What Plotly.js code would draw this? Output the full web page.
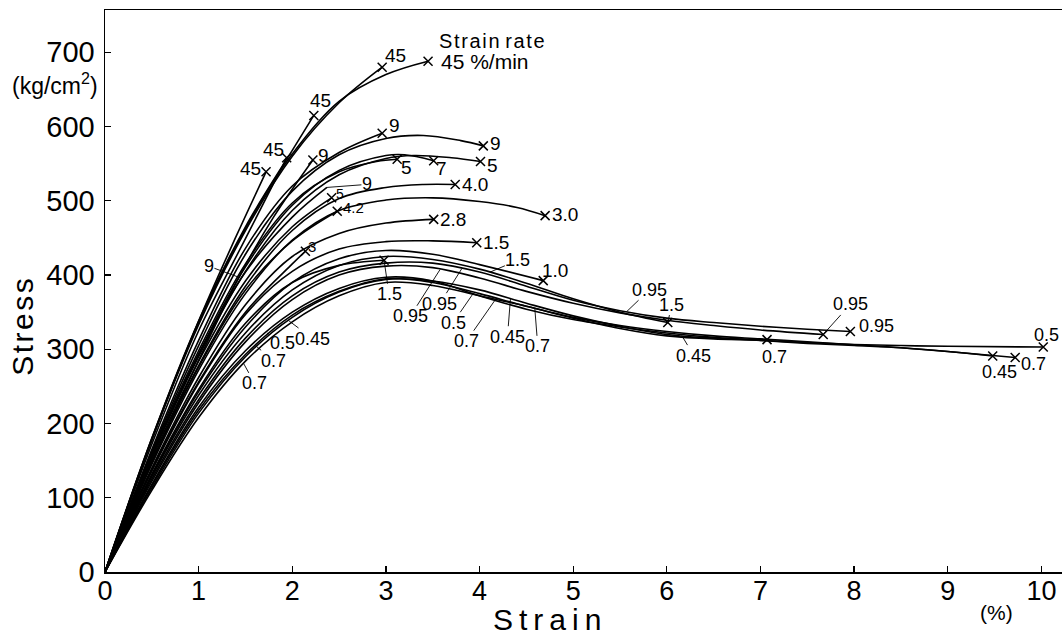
<!DOCTYPE html>
<html><head><meta charset="utf-8">
<script src="https://cdn.plot.ly/plotly-3.0.1.min.js"></script>
<style>body{margin:0;background:#fff}#chart{width:1062px;height:636px}</style>
</head><body><div id="chart"></div>
<script>
// ---- Data: strain (%) and stress (kg/cm2) ----
const U1_strain=[0,0.5,1,1.5,2,2.5,3,3.45];            const U1_stress=[0,180,336,463,563,634,670,688];
const U2_strain=[0,0.5,1,1.5,2,2.5,2.96];              const U2_stress=[0,178,333,460,560,632,680];
const U3_strain=[0,0.5,1,1.5,2,2.23];                  const U3_stress=[0,180,338,465,568,615];
const U4_strain=[0,0.5,1,1.5,1.94];                    const U4_stress=[0,172,325,449,558];
const U5_strain=[0,0.5,1,1.4,1.72];                    const U5_stress=[0,178,338,452,539];
const U6_strain=[0,0.5,1,1.43,1.8,2.22];               const U6_stress=[0,148,285,397,478,555];
const U7_strain=[0,0.5,1,1.5,2,2.5,2.96];              const U7_stress=[0,165,312,436,520,565,591];
const U8_strain=[0,0.5,1,1.5,2,2.5,3,3.4,3.8,4.04];    const U8_stress=[0,162,305,428,513,562,584,588,581,574];
const U9_strain=[0,0.5,1,1.5,2,2.5,2.9,3.12];          const U9_stress=[0,160,298,415,497,539,553,556];
const U10_strain=[0,0.5,1,1.5,2,2.5,3,3.2,3.51];       const U10_stress=[0,157,294,411,494,541,561,562,554];
const U11_strain=[0,0.5,1,1.5,2,2.5,3,3.3,3.7,4.01];   const U11_stress=[0,155,290,405,487,535,557,561,558,553];
const U18_strain=[0,0.5,1,1.5,2,2.37];                 const U18_stress=[0,156,293,404,478,518];
const U15_strain=[0,0.5,1,1.5,2,2.42];                 const U15_stress=[0,152,284,392,465,504];
const U16_strain=[0,0.5,1,1.5,2,2.48];                 const U16_stress=[0,148,276,380,446,486];
const U12_strain=[0,0.5,1,1.5,2,2.5,3,3.4,3.74];       const U12_stress=[0,148,278,385,460,503,518,522,522];
const U13_strain=[0,0.5,1,1.5,2,2.5,3,3.5,4,4.4,4.7];  const U13_stress=[0,145,272,375,447,487,501,504,499,491,480];
const U14_strain=[0,0.5,1,1.5,2,2.5,3,3.51];           const U14_stress=[0,140,262,360,425,456,470,475];
const U17_strain=[0,0.5,1,1.5,2,2.14];                 const U17_stress=[0,138,256,350,415,432];
const L10_strain=[0,0.5,1,1.5,2,2.5,3,3.5,3.97];       const L10_stress=[0,136,254,347,405,435,445,446,443.5];
const L9_strain=[0,0.5,1,1.5,2,2.5,2.98];              const L9_stress=[0,132,246,335,390,413,420];
const L8_strain=[0,0.5,1,1.5,2,2.5,3,3.5,4,4.68];      const L8_stress=[0,130,243,330,390,422,433,428,414,392.5];
const L7_strain=[0,0.5,1,1.5,2,2.5,3,3.5,4,4.5,5,5.5,6.01];
const L7_stress=[0,128,238,322,380,413,425,421,408,389,368,350,336];
const L4_strain=[0,0.5,1,1.5,2,2.5,3,3.5,4,4.5,5,5.5,6,6.5,7,7.5,7.96];
const L4_stress=[0,125,232,315,372,404,416,416,404,385,366,352,342,336,331,327,324];
const L5_strain=[0,0.5,1,1.5,2,2.5,3,3.5,4,4.5,5,5.5,6,6.5,7,7.67];
const L5_stress=[0,122,228,310,367,400,412,410,396,378,362,349,339,332,326,320];
const L1_strain=[0,0.5,1,1.5,2,2.5,3,3.5,4,4.5,5,5.5,6,6.5,7,7.5,8,8.5,9,10.02];
const L1_stress=[0,118,222,298,350,382,397,392,372,354,340,330,322,316,312,309,306.5,305,304,303];
const L2_strain=[0,0.5,1,1.5,2,2.5,3,3.5,4,4.5,5,5.5,6,6.5,7,7.5,8,8.5,9,9.72];
const L2_stress=[0,116,218,293,346,378,395,390,375,358,343,332,324,318,314,310,306,302,297,289];
const L3_strain=[0,0.5,1,1.5,2,2.5,3,3.5,4,4.5,5,5.5,6,6.5,7,7.5,8,8.5,9,9.48];
const L3_stress=[0,113,214,290,343,377,394,392,380,362,345,331,320,315,312,308,305,302,297,291];
const L6_strain=[0,0.5,1,1.5,2,2.5,3,3.5,4,4.5,5,5.5,6,6.5,7.07];
const L6_stress=[0,110,208,284,337,372,390,386,372,358,342,328,318,314,313];

// curve id -> [strain, stress, strain-rate label, has end cross]
const curves = {
  U1:[U1_strain,U1_stress,'45',true], U2:[U2_strain,U2_stress,'45',true], U3:[U3_strain,U3_stress,'45',true],
  U4:[U4_strain,U4_stress,'45',true], U5:[U5_strain,U5_stress,'45',true], U6:[U6_strain,U6_stress,'9',true],
  U7:[U7_strain,U7_stress,'9',true], U8:[U8_strain,U8_stress,'9',true], U9:[U9_strain,U9_stress,'5',true],
  U10:[U10_strain,U10_stress,'7',true], U11:[U11_strain,U11_stress,'5',true], U18:[U18_strain,U18_stress,'9',false],
  U15:[U15_strain,U15_stress,'5',true], U16:[U16_strain,U16_stress,'4.2',true], U12:[U12_strain,U12_stress,'4.0',true],
  U13:[U13_strain,U13_stress,'3.0',true], U14:[U14_strain,U14_stress,'2.8',true], U17:[U17_strain,U17_stress,'3',true],
  L10:[L10_strain,L10_stress,'1.5',true], L9:[L9_strain,L9_stress,'1.5',true], L8:[L8_strain,L8_stress,'1.0',true],
  L7:[L7_strain,L7_stress,'1.5',true], L4:[L4_strain,L4_stress,'0.95',true], L5:[L5_strain,L5_stress,'0.95',true],
  L1:[L1_strain,L1_stress,'0.5',true], L2:[L2_strain,L2_stress,'0.7',true], L3:[L3_strain,L3_stress,'0.45',true],
  L6:[L6_strain,L6_stress,'0.7',true]
};

// labels placed next to the end cross: [curve, dx px, dy px (up), font size]
const endLabels = [
  ['U2',13,12,19],['U3',7,15,19],['U4',-13,8,19],['U5',-16,3,19],['U6',11,4,19],['U7',12,8,19],
  ['U8',12,2,19],['U9',9,-8,19],['U10',8,-8,19],['U11',12,-4,19],['U15',8,4,14],['U16',16,4,15],
  ['U17',7,5,15],['U12',20,0,19],['U13',20,1,19],['U14',19,0,19],['L10',19,0,19],['L8',12,10,19],
  ['L4',26,5,18],['L6',7,-17,18],['L1',3,12,18],['L3',7,-16,18],['L2',18,-7,18]
];
// labels joined to a curve by a leader line: [curve, strain where leader meets, text offset x, y (down)]
const leaderLabels = [
  ['L9',2.98,5,34],['L7',6.01,4,-18],['L5',7.67,27,-30],
  ['U6',1.43,-30,-11],['U18',2.37,40,-3],['L7',4.11,28,-12],['L5',3.58,-30,47],['L4',3.81,-22,35],
  ['L1',3.93,-20,29],['L2',4.18,-30,43],['L3',4.33,-3,38],['L6',4.59,3,38],['L4',5.57,23,-22],
  ['L3',6.16,12,20],['L3',1.96,24,18],['L1',1.73,15,10],['L2',1.61,18,15],['L6',1.48,11,20]
];

const FONT='"Liberation Sans", Arial, sans-serif';
const spaced = (s, sep) => s.split('').join(sep);
function interp(xs, ys, x){
  for(let i=1;i<xs.length;i++){ if(x<=xs[i]){ const t=(x-xs[i-1])/(xs[i]-xs[i-1]); return ys[i-1]+t*(ys[i]-ys[i-1]); } }
  return ys[ys.length-1];
}

const traces=[];
const ex=[], ey=[];
for(const id in curves){
  const [sx,sy,rate,cross]=curves[id];
  traces.push({x:sx,y:sy,type:'scatter',mode:'lines',line:{color:'#000',width:1.6,shape:'spline',smoothing:1},hoverinfo:'skip',name:rate});
  if(cross){ ex.push(sx[sx.length-1]); ey.push(sy[sy.length-1]); }
}
traces.push({x:ex,y:ey,type:'scatter',mode:'markers',marker:{symbol:'x-thin',size:9,color:'#000',line:{color:'#000',width:1.5}},hoverinfo:'skip'});

const ann=[];
for(const [id,dx,dy,fs] of endLabels){
  const [sx,sy,rate]=curves[id];
  ann.push({x:sx[sx.length-1],y:sy[sy.length-1],text:rate,showarrow:false,xanchor:'center',yanchor:'middle',xshift:dx,yshift:dy,font:{size:fs,family:FONT,color:'#000'}});
}
for(const [id,s,ax,ay] of leaderLabels){
  const [sx,sy,rate]=curves[id];
  ann.push({x:s,y:interp(sx,sy,s),text:rate,showarrow:true,arrowhead:0,arrowwidth:0.9,arrowcolor:'#000',standoff:0,ax:ax,ay:ay,
    font:{size:18,family:FONT,color:'#000'},borderpad:0});
}
// strain-rate caption at the top curve
{
  const sx=U1_strain, sy=U1_stress;
  ann.push({x:sx[sx.length-1],y:sy[sy.length-1],text:'45 %/min',showarrow:false,xanchor:'left',yanchor:'middle',xshift:11,yshift:0,font:{size:21,family:FONT,color:'#000'}});
  ann.push({x:sx[sx.length-1],y:sy[sy.length-1],text:spaced('Strain','\u200A')+' '+spaced('rate','\u200A'),showarrow:false,xanchor:'left',yanchor:'middle',xshift:9,yshift:20,font:{size:20,family:FONT,color:'#000'}});
}
// axis titles and units
ann.push({xref:'paper',yref:'paper',x:0.462,y:0,xanchor:'center',yanchor:'middle',yshift:-47,text:spaced('Strain','\u2009'),showarrow:false,font:{size:30,family:FONT,color:'#000'}});
ann.push({xref:'paper',yref:'y',x:-0.087,y:330,xanchor:'center',yanchor:'middle',text:spaced('Stress','\u200A'),textangle:-90,showarrow:false,font:{size:30,family:FONT,color:'#000'}});
ann.push({xref:'paper',yref:'y',x:-0.0522,y:657,xanchor:'center',yanchor:'middle',text:'(kg/cm<sup>2</sup>)',showarrow:false,font:{size:23,family:FONT,color:'#000'}});
ann.push({xref:'paper',yref:'paper',x:0.932,y:0,xanchor:'center',yanchor:'middle',yshift:-40,text:'(%)',showarrow:false,font:{size:21,family:FONT,color:'#000'}});

const layout={
  width:1062,height:636,margin:{l:105,r:0,t:10,b:64},
  paper_bgcolor:'#fff',plot_bgcolor:'#fff',showlegend:false,
  font:{family:FONT,color:'#000'},
  xaxis:{range:[0,10.22],showgrid:false,zeroline:false,showline:true,linecolor:'#000',linewidth:1.5,mirror:true,
    ticks:'inside',ticklen:6,tickwidth:1.3,tickcolor:'#000',dtick:1,tick0:0,tickfont:{size:27,family:FONT},ticklabelstandoff:-6},
  yaxis:{range:[0,757],showgrid:false,zeroline:false,showline:true,linecolor:'#000',linewidth:1.5,
    ticks:'inside',ticklen:6,tickwidth:1.3,tickcolor:'#000',dtick:100,tick0:0,tickfont:{size:29,family:FONT},ticklabelstandoff:3},
  annotations:ann
};
Plotly.newPlot('chart',traces,layout,{staticPlot:true,displayModeBar:false});
</script></body></html>
